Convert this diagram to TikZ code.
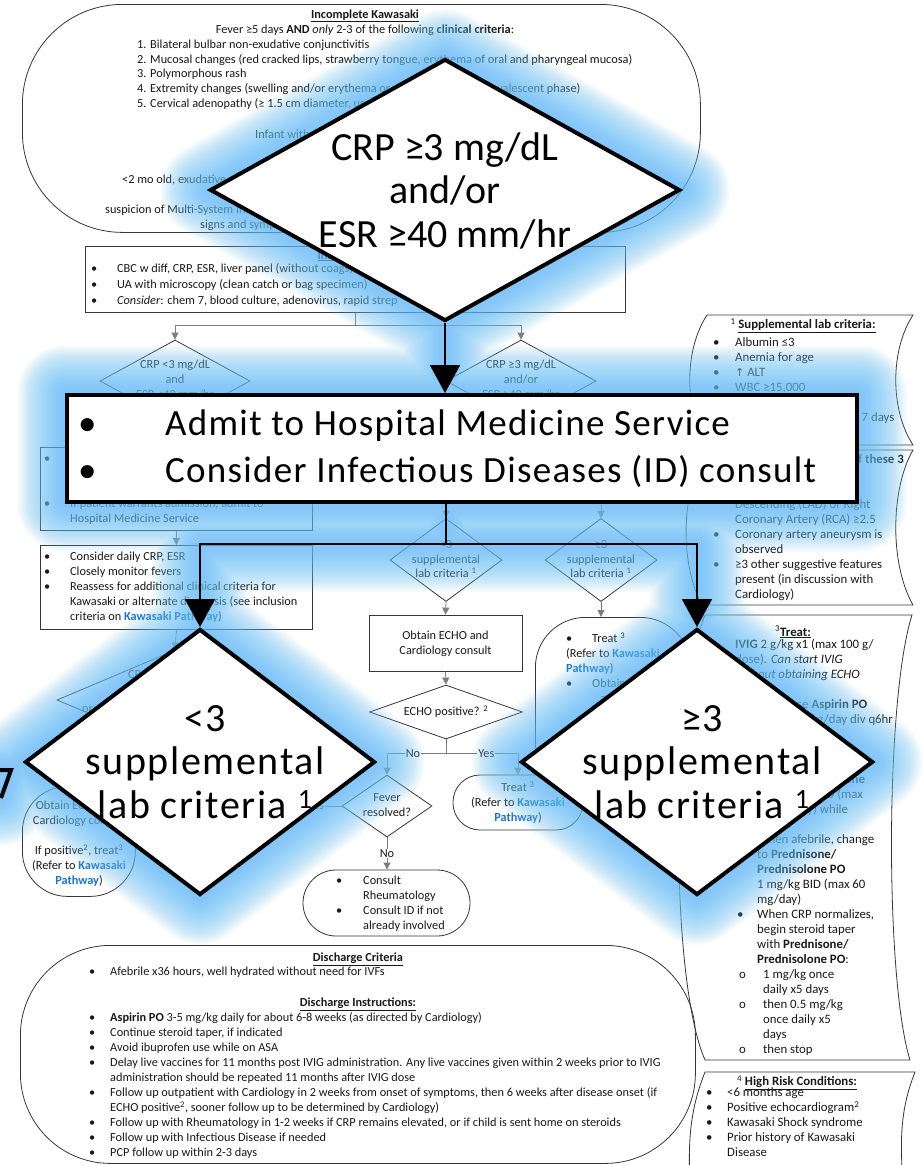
\documentclass[tikz,border=0pt]{standalone}
\usepackage{fontspec}
\setmainfont{Carlito}
\newfontfamily\dejavu{DejaVu Sans}
\usetikzlibrary{shapes.geometric,arrows.meta,calc}
\definecolor{ink}{RGB}{25,25,25}
\definecolor{rim}{RGB}{55,55,55}
\definecolor{conn}{RGB}{125,125,125}
\definecolor{link}{RGB}{30,115,200}
\definecolor{glowc}{RGB}{110,198,248}
\pgfdeclarelayer{chart}
\pgfdeclarelayer{halo}
\pgfsetlayers{chart,halo,main}
\newcommand{\kp}[1]{\textcolor{link}{\textbf{#1}}}
\newcommand{\cl}[1]{\begin{tabular}[t]{@{}c@{}}#1\end{tabular}}
\newcommand{\lft}[1]{\begin{tabular}[t]{@{}l@{}}#1\end{tabular}}
\newcommand{\blt}[2]{\begin{tabular}[t]{@{}p{#1}@{}l@{}}#2\end{tabular}}
\newcommand{\sps}[1]{\textsuperscript{#1}}
\begin{document}
\begin{tikzpicture}[x=1pt,y=-1pt,
  every node/.style={text=ink},
  sm/.style={font=\fontsize{12.3}{15}\selectfont},
  pn/.style={font=\fontsize{12.8}{15}\selectfont},
  txt/.style={sm,inner sep=0,anchor=base west},
  ctx/.style={sm,inner sep=0,anchor=base},
  box/.style={draw=rim,line width=0.8pt,inner sep=0},
  dia/.style={diamond,draw=rim,line width=0.8pt,inner sep=0},
  wire/.style={draw=conn,line width=0.8pt},
  arr/.style={-{Triangle[length=7pt,width=7pt]}},
  onwire/.style={sm,fill=white,inner sep=1pt},
  bigdia/.style={diamond,draw=black,line width=4pt,fill=white,inner sep=0},
  bigfont/.style={font=\fontsize{40}{43.5}\selectfont,text=black,inner sep=0,anchor=base},
  spaced/.style={font=\fontsize{40}{43.5}\selectfont\addfontfeatures{LetterSpace=4}},
  bigwire/.style={draw=black,line width=1.8pt},
  bigarr/.style={-{Triangle[length=28pt,width=30pt]}},
]
\useasboundingbox (0,0) rectangle (922,1165);

\begin{pgfonlayer}{chart}
\fill[white] (0,0) rectangle (922,1165);

% ---- incomplete Kawasaki criteria
\node[box,rounded corners=100pt,minimum width=678pt,minimum height=228pt,anchor=north west] (ik) at (22,4) {};
\node[ctx] (ikT) at (365,18) {\underline{\textbf{Incomplete Kawasaki}}};
\node[ctx] (ikF) at (365,33.5) {Fever ≥5 days \textbf{AND} \textit{only} 2-3 of the following \textbf{clinical criteria}:};
\node[txt,font=\fontsize{12.3}{14.7}\selectfont] (ikL) at (137,48.5) {\lft{1. Bilateral bulbar non-exudative conjunctivitis\\
 2. Mucosal changes (red cracked lips, strawberry tongue, erythema of oral and pharyngeal mucosa)\\
 3. Polymorphous rash\\
 4. Extremity changes (swelling and/or erythema or desquamation in convalescent phase)\\
 5. Cervical adenopathy (≥ 1.5 cm diameter, usually unilateral)}};
\node[txt] (ikI) at (255,138.5) {Infant with fever ≥7 days};
\node[txt] (ikX1) at (122,183.5) {<2 mo old, exudative conjunctivitis or pharyngitis};
\node[txt] (ikX2) at (105,213.5) {suspicion of Multi-System Inflammatory Syndrome};
\node[txt] (ikX3) at (200,228.5) {signs and symptoms};

% ---- initial labs
\node[box,minimum width=540pt,minimum height=66pt,anchor=north west] (labs) at (85,246) {};
\node[ctx] (labsT) at (345,259) {\underline{\textbf{Initial Labs}}};
\node[txt,font=\fontsize{12.3}{16}\selectfont] (labsL) at (91,272.5) {\blt{26pt}{\textbullet & CBC w diff, CRP, ESR, liver panel (without coags), GGT\\
 \textbullet & UA with microscopy (clean catch or bag specimen)\\
 \textbullet & \textit{Consider}: chem 7, blood culture, adenovirus, rapid strep}};

\node[dia,minimum width=150pt,minimum height=82pt] (crpL) at (175,381) {};
\node[ctx] (crpLt) at (175,368.5) {\cl{CRP <3 mg/dL\\and\\ESR <40 mm/hr}};
\node[dia,minimum width=150pt,minimum height=82pt] (crpR) at (521,381) {};
\node[ctx] (crpRt) at (521,368.5) {\cl{CRP ≥3 mg/dL\\and/or\\ESR ≥40 mm/hr}};
\draw[wire] (labs.south) -- ++(0,13) coordinate (labsfork);
\draw[wire,arr] (labsfork) -| (crpL.north);
\draw[wire,arr] (labsfork) -| (crpR.north);

% ---- low CRP / ESR branch
\node[box,minimum width=272pt,minimum height=83pt,anchor=north west] (obs1) at (40,447) {};
\node[txt] (obs1t) at (44,462.5) {\blt{26pt}{\textbullet & \\
 & \\
 & \\
 \textbullet & If patient warrants admission, admit to\\
 & Hospital Medicine Service}};
\draw[wire,arr] (crpL.south) -- (obs1.north -| crpL.south);
\node[box,minimum width=272pt,minimum height=84pt,anchor=north west] (obs2) at (40,545) {};
\node[txt] (obs2t) at (44,560.5) {\blt{26pt}{\textbullet & Consider daily CRP, ESR\\
 \textbullet & Closely monitor fevers\\
 \textbullet & Reassess for additional clinical criteria for\\
 & Kawasaki or alternate diagnosis (see inclusion\\
 & criteria on \kp{Kawasaki Pathway})}};
\draw[wire,arr] (obs1.south) -- (obs2.north);
\node[dia,minimum width=236pt,minimum height=100pt] (crp2) at (175,700) {};
\node[txt] (crp2a) at (128,678.5) {CRP/ESR};
\node[txt] (crp2b) at (82,712) {or persistent};
\draw[wire,arr] (obs2.south) -- (crp2.north);
\node[box,rounded corners=45pt,minimum width=113pt,minimum height=110pt,anchor=north west] (lecho) at (22,786) {};
\node[ctx] (lechot) at (79,809.5) {\cl{Obtain ECHO and\\Cardiology consult\\[15pt]If positive\sps{2}, treat\sps{3}\\(Refer to \kp{Kawasaki}\\\kp{Pathway})}};

% ---- high CRP / ESR branch
\coordinate (admL) at (446,495);
\coordinate (admR) at (601,495);
\node[dia,minimum width=112pt,minimum height=83pt] (s3L) at (446,560) {};
\node[ctx,font=\fontsize{12.3}{14.5}\selectfont] (s3Lt) at (446,548.5) {\cl{<3\\supplemental\\lab criteria \sps{1}}};
\node[dia,minimum width=112pt,minimum height=83pt] (s3R) at (601,560) {};
\node[ctx,font=\fontsize{12.3}{14.5}\selectfont] (s3Rt) at (601,548.5) {\cl{≥3\\supplemental\\lab criteria \sps{1}}};
\draw[wire,arr] (admL) -- (s3L.north);
\draw[wire,arr] (admR) -- (s3R.north);
\node[box,minimum width=153pt,minimum height=56pt] (echo) at (445.5,643) {};
\node[ctx] (echot) at (445.5,639.5) {\cl{Obtain ECHO and\\Cardiology consult}};
\draw[wire,arr] (s3L.south) -- (echo.north);
\node[dia,minimum width=153pt,minimum height=54pt] (epos) at (446,712) {};
\node[ctx] (epost) at (446,715.5) {ECHO positive? \sps{2}};
\draw[wire,arr] (echo.south) -- (epos.north);
\node[dia,minimum width=90pt,minimum height=62pt] (fever) at (387,806) {};
\node[ctx] (fevert) at (387,801.5) {\cl{Fever\\resolved?}};
\node[box,rounded corners=27pt,minimum width=130pt,minimum height=55pt] (treatM) at (518,802.5) {};
\node[ctx] (treatMt) at (518,791.5) {\cl{Treat \sps{3}\\(Refer to \kp{Kawasaki}\\\kp{Pathway})}};
\draw[wire] (epos.south) -- ++(0,14) coordinate (eposfork);
\draw[wire,arr] (eposfork) -| node[onwire,pos=0.28]{No} (fever.north);
\draw[wire,arr] (eposfork) -| node[onwire,pos=0.28]{Yes} (treatM.north);
\coordinate (yesend) at (250,806);
\draw[wire] (fever.west) -- node[onwire,pos=0.28]{Yes} (yesend);
\node[box,rounded corners=33pt,minimum width=167pt,minimum height=66pt] (rheum) at (386.5,903) {};
\node[txt] (rheumt) at (336,884.5) {\blt{27pt}{\textbullet & Consult\\ & Rheumatology\\ \textbullet & Consult ID if not\\ & already involved}};
\draw[wire,arr] (fever.south) -- node[onwire]{No} (fever.south |- rheum.north);
\node[box,rounded corners=50pt,minimum width=155pt,minimum height=175pt,anchor=north west] (treatR) at (535,617) {};
\draw[wire,arr] (s3R.south) -- (s3R.south |- treatR.north);
\node[txt] (treatRt) at (566,642.5) {\blt{26pt}{\textbullet & Treat \sps{3}\\
 \multicolumn{2}{@{}l@{}}{(Refer to \kp{Kawasaki}}\\
 \multicolumn{2}{@{}l@{}}{\kp{Pathway})}\\
 \textbullet & Obtain ECHO\\
 & \hspace{8pt}and}};

% ---- side panels
\draw[rim,line width=0.8pt] (707,315) -- (913,315) .. controls (890,350) and (890,410) .. (913,445) -- (707,445) .. controls (684,410) and (684,350) .. cycle;
\node[pn,inner sep=0,anchor=base] (p1T) at (803,328.5) {\sps{1} \underline{\textbf{Supplemental lab criteria:}}};
\node[pn,inner sep=0,anchor=base west] (p1L) at (713,346.5) {\blt{22pt}{\textbullet & Albumin ≤3\\ \textbullet & Anemia for age\\ \textbullet & {\dejavu\fontsize{11}{15}\selectfont ↑} ALT\\ \textbullet & WBC ≥15,000\\ \textbullet & \\ \textbullet & Platelets ≥450,000 after 7 days}};

\draw[rim,line width=0.8pt] (707,450) -- (913,450) .. controls (890,490) and (890,565) .. (913,605) -- (702,605) .. controls (680,565) and (680,490) .. cycle;
\node[pn,inner sep=0,anchor=base east] (p2T) at (904,463.5) {\sps{2} \textbf{ECHO positive if any of these 3}};
\node[pn,inner sep=0,anchor=base west] (p2L) at (713,478.5) {\blt{22pt}{ & \\ \textbullet & Z-score of Left Anterior\\ & Descending (LAD) or Right\\ & Coronary Artery (RCA) ≥2.5\\ \textbullet & Coronary artery aneurysm is\\ & observed\\ \textbullet & ≥3 other suggestive features\\ & present (in discussion with\\ & Cardiology)}};

\draw[rim,line width=0.8pt] (705,615) -- (912,615) .. controls (885,700) and (885,980) .. (910,1060) -- (705,1060) .. controls (670,980) and (670,700) .. cycle;
\node[pn,inner sep=0,anchor=base] (p3T) at (793,636) {\sps{3}\underline{\textbf{Treat:}}};
\node[pn,inner sep=0,anchor=base west] (p3L) at (735,648.5) {\blt{22pt}{
 \multicolumn{2}{@{}l@{}}{\textbf{IVIG} 2 g/kg x1 (max 100 g/}\\
 \multicolumn{2}{@{}l@{}}{dose). \textit{Can start IVIG}}\\
 \multicolumn{2}{@{}l@{}}{\textit{without obtaining ECHO}}\\[15pt]
 \hspace{2pt}\textbullet & High dose \textbf{Aspirin PO}\\
 & 30-50 mg/kg/day div q6hr\\
 & \\
 & \\
 & \\
 & \textbf{Methylprednisolone}\\
 & IV 1 mg/kg BID (max\\
 & 60 mg/day) while\\
 & febrile\\
 \hspace{2pt}\textbullet & When afebrile, change\\
 & to \textbf{Prednisone/}\\
 & \textbf{Prednisolone PO}\\
 & 1 mg/kg BID (max 60\\
 & mg/day)\\
 \hspace{2pt}\textbullet & When CRP normalizes,\\
 & begin steroid taper\\
 & with \textbf{Prednisone/}\\
 & \textbf{Prednisolone PO}:\\
 \hspace{4pt}o & \hspace{6pt}1 mg/kg once\\
 & \hspace{6pt}daily x5 days\\
 \hspace{4pt}o & \hspace{6pt}then 0.5 mg/kg\\
 & \hspace{6pt}once daily x5\\
 & \hspace{6pt}days\\
 \hspace{4pt}o & \hspace{6pt}then stop}};

\draw[rim,line width=0.8pt] (690,1185) .. controls (688,1140) and (690,1110) .. (705,1072) -- (915,1072) .. controls (900,1110) and (900,1140) .. (903,1185);
\node[pn,inner sep=0,anchor=base] (p4T) at (797,1085.5) {\sps{4} \underline{\textbf{High Risk Conditions:}}};
\node[pn,inner sep=0,anchor=base west] (p4L) at (706,1096.5) {\blt{21pt}{\textbullet & <6 months age\\ \textbullet & Positive echocardiogram\sps{2}\\ \textbullet & Kawasaki Shock syndrome\\ \textbullet & Prior history of Kawasaki\\ & Disease}};

% ---- discharge
\node[box,rounded corners=90pt,minimum width=675pt,minimum height=218pt,anchor=north west] (dis) at (20,945) {};
\node[ctx] (disT) at (358,961.5) {\underline{\textbf{Discharge Criteria}}};
\node[txt] (disC) at (89,975.5) {\blt{21pt}{\textbullet & Afebrile x36 hours, well hydrated without need for IVFs}};
\node[ctx] (disI) at (358,1006.5) {\underline{\textbf{Discharge Instructions:}}};
\node[txt] (disL) at (89,1021.5) {\blt{21pt}{\textbullet & \textbf{Aspirin PO} 3-5 mg/kg daily for about 6-8 weeks (as directed by Cardiology)\\
 \textbullet & Continue steroid taper, if indicated\\
 \textbullet & Avoid ibuprofen use while on ASA\\
 \textbullet & Delay live vaccines for 11 months post IVIG administration. Any live vaccines given within 2 weeks prior to IVIG\\
 & administration should be repeated 11 months after IVIG dose\\
 \textbullet & Follow up outpatient with Cardiology in 2 weeks from onset of symptoms, then 6 weeks after disease onset (if\\
 & ECHO positive\sps{2}, sooner follow up to be determined by Cardiology)\\
 \textbullet & Follow up with Rheumatology in 1-2 weeks if CRP remains elevated, or if child is sent home on steroids\\
 \textbullet & Follow up with Infectious Disease if needed\\
 \textbullet & PCP follow up within 2-3 days}};
\end{pgfonlayer}

% ---- enlarged callouts
\node[bigdia,minimum width=470pt,minimum height=262pt] (d1) at (445,190) {};
\node[bigfont] (d1t) at (445,160) {\cl{CRP ≥3 mg/dL\\and/or\\ESR ≥40 mm/hr}};
\node[draw=black,line width=4pt,fill=white,minimum width=790pt,minimum height=107pt,anchor=north west,inner sep=0] (adm) at (65,393) {};
\node[font=\fontsize{37}{47}\selectfont\addfontfeatures{LetterSpace=3.5},text=black,inner sep=0,anchor=base west] (admt) at (78,435) {\blt{87pt}{\textbullet & Admit to Hospital Medicine Service\\ \textbullet & Consider Infectious Diseases (ID) consult}};
\node[bigdia,minimum width=350pt,minimum height=266pt] (d2) at (200,762) {};
\node[bigfont,spaced] (d2t) at (205,731) {\cl{<3\\supplemental\\lab criteria \sps{1}}};
\node[bigdia,minimum width=352pt,minimum height=266pt] (d3) at (697,762) {};
\node[bigfont,spaced] (d3t) at (702,731) {\cl{≥3\\supplemental\\lab criteria \sps{1}}};
\coordinate (fork) at (446,544);
\draw[bigwire,bigarr] (d1.south) -- (d1.south |- adm.north);
\draw[bigwire] (adm.south -| fork) -- (fork);
\draw[bigwire,bigarr] (fork) -| (d2.north);
\draw[bigwire,bigarr] (fork) -| (d3.north);
\draw[line width=4pt] (-4,770) -- (11,770) -- (1,798);

% ---- soft halo around the callouts
\begin{pgfonlayer}{halo}
\foreach \w in {2,4,...,96}{
 \draw[glowc,opacity=0.032,line width=\w pt,line join=round,line cap=round]
  (d1.north) -- (d1.east) -- (d1.south) -- (d1.west) -- cycle
  (adm.north west) rectangle (adm.south east)
  (d2.north) -- (d2.east) -- (d2.south) -- (d2.west) -- cycle
  (d3.north) -- (d3.east) -- (d3.south) -- (d3.west) -- cycle
  (d1.south) -- (d1.south |- adm.north)
  (adm.south -| fork) -- (fork)
  (d2.north |- fork) -- (d3.north |- fork)
  (d2.north |- fork) -- (d2.north)
  (d3.north |- fork) -- (d3.north)
  (-4,770) -- (11,770) -- (1,798);
}
\end{pgfonlayer}
\end{tikzpicture}
\end{document}
